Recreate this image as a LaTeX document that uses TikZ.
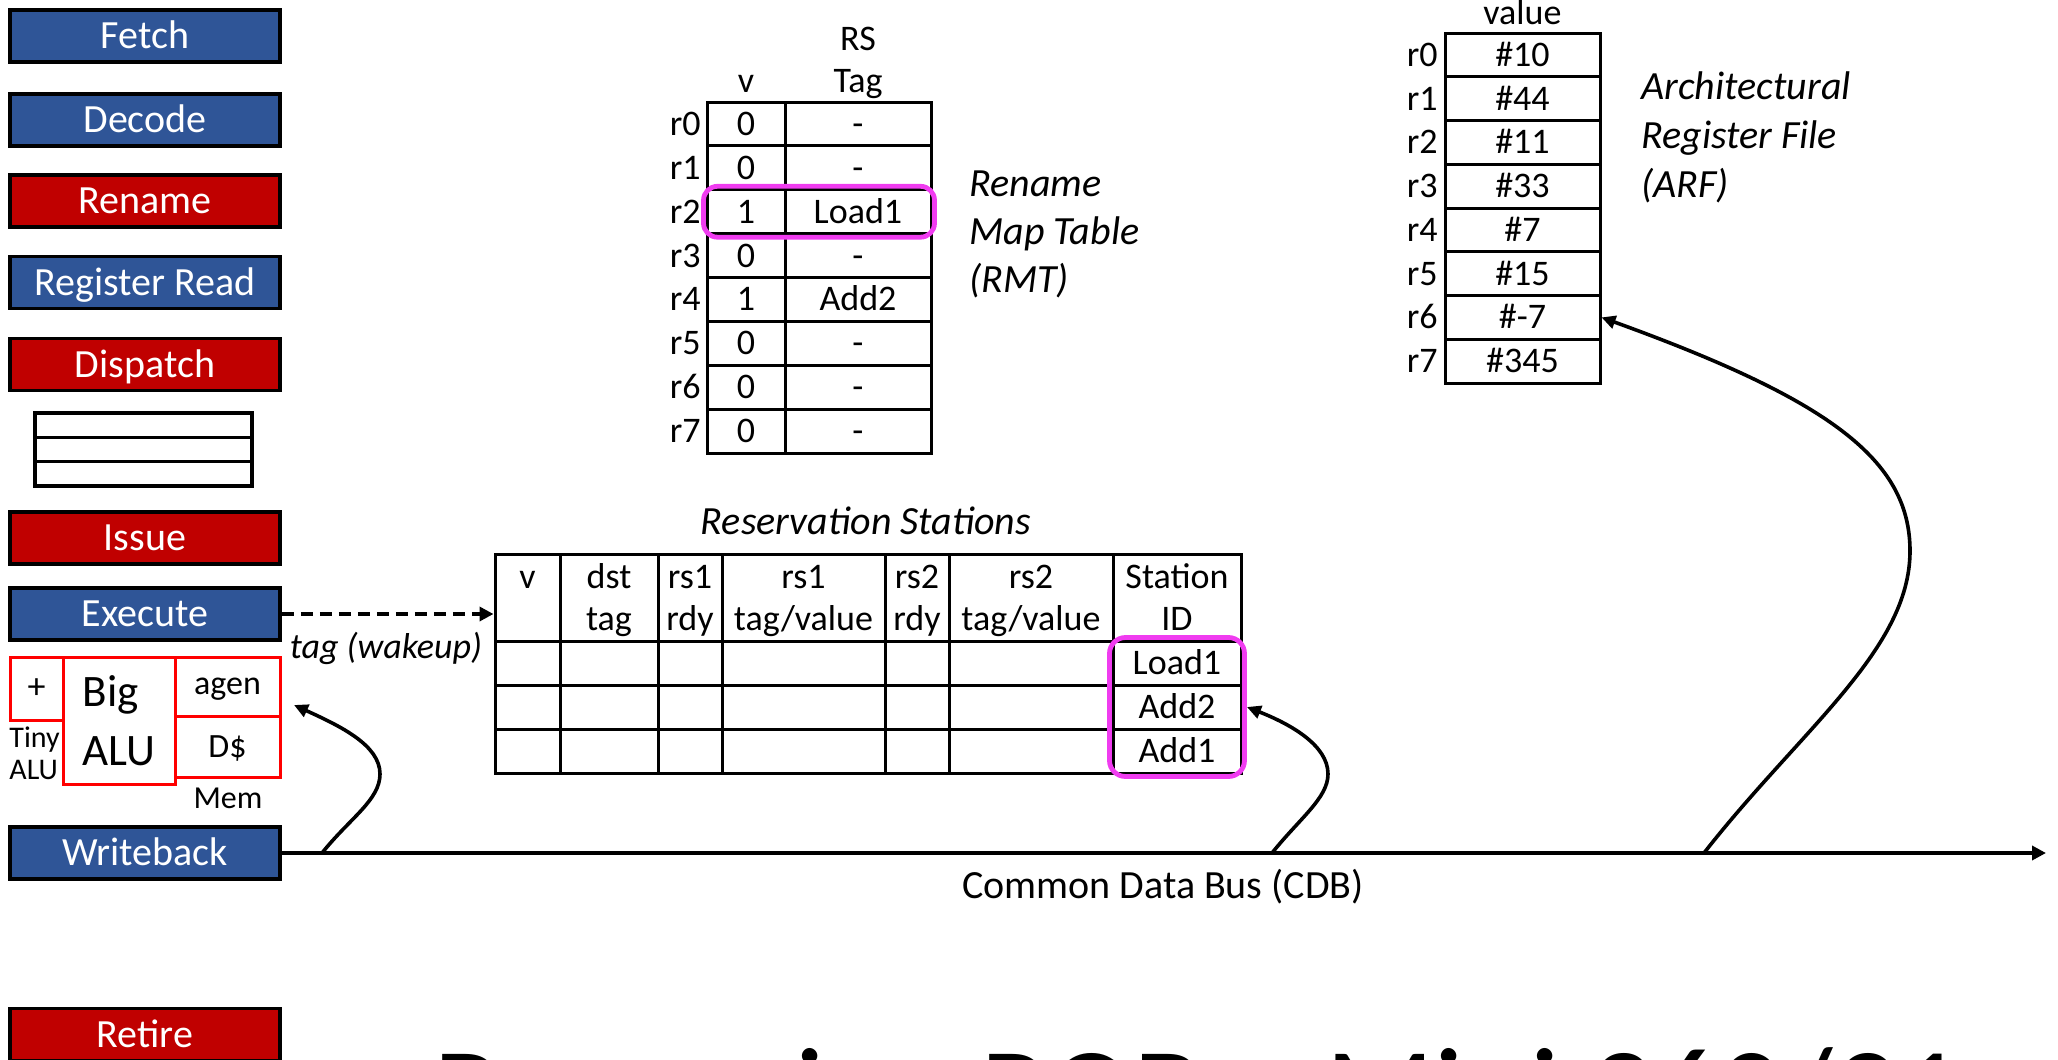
\documentclass[tikz,border=0pt]{standalone}
\usepackage{fontspec}
\setmainfont{Carlito}
\usetikzlibrary{arrows.meta,fit}
\definecolor{stblue}{HTML}{2F5597}
\definecolor{stred}{HTML}{C00000}
\definecolor{alured}{HTML}{FF0000}
\definecolor{magen}{HTML}{F03CF0}
\begin{document}
\begin{tikzpicture}[x=0.5pt,y=-0.5pt,
  stage/.style={draw=black, line width=1.8pt, minimum width=135pt, minimum height=26pt, inner sep=0pt, text=white, font=\fontsize{20}{24}\selectfont, text height=12.6pt, text depth=0pt},
  bluest/.style={stage, fill=stblue},
  redst/.style={stage, fill=stred},
  qbox/.style={draw=black, line width=1.6pt, minimum width=108.5pt, minimum height=12.15pt, inner sep=0pt},
  cell/.style={draw=black, line width=1.5pt, inner sep=0pt, font=\fontsize{18}{21.6}\selectfont, text height=11.4pt, text depth=0pt},
  rowlbl/.style={inner sep=0pt, anchor=east, font=\fontsize{18}{21.6}\selectfont, text height=11.4pt, text depth=0pt},
  hdr/.style={inner sep=0pt, anchor=base, font=\fontsize{18}{21.6}\selectfont},
  ital/.style={inner sep=0pt, font=\fontsize{20}{24}\selectfont\itshape, align=left},
  alubox/.style={draw=alured, line width=1.5pt, inner sep=0pt},
  magbox/.style={draw=magen, line width=2.4pt, rounded corners=7pt, inner sep=1pt},
  conn/.style={line width=1.8pt, -{Triangle[length=7pt,width=6.5pt]}},
]
\useasboundingbox (0,0) rectangle (2058,1060);

% ---------- pipeline stages ----------
\node[bluest] (fetch) at (145,36) {Fetch};
\node[bluest] (decode) at (145,120) {Decode};
\node[redst] (rename) at (145,201) {Rename};
\node[bluest] (regread) at (145,282.5) {Register Read};
\node[redst] (dispatch) at (145,364.5) {Dispatch};
\node[qbox] (q1) at (143.5,425.2) {};
\node[qbox] (q2) at (143.5,449.5) {};
\node[qbox] (q3) at (143.5,473.8) {};
\node[redst] (issue) at (145,538) {Issue};
\node[bluest] (exe) at (145,614) {Execute};
\node[bluest] (wb) at (145,853) {Writeback};
\node[redst] (retire) at (145,1034.5) {Retire};

% ---------- functional units ----------
\node[alubox, minimum width=26.5pt, minimum height=31.5pt, font=\fontsize{18}{20}\selectfont] (plus) at (36.5,688.5) {+};
\node[alubox, minimum width=52.5pt, minimum height=29.5pt, font=\fontsize{17}{20}\selectfont, text height=7.9pt, text depth=0pt] (agen) at (227.5,686.5) {agen};
\node[alubox, minimum width=52.5pt, minimum height=30.5pt, font=\fontsize{17}{20}\selectfont, text height=10.8pt, text depth=0pt] (dcache) at (227.5,746.5) {D\$};
\node[alubox, minimum width=56pt, minimum height=63.5pt, align=left, font=\fontsize{22.5}{29.5}\selectfont] (bigalu) at (119,720.5) {Big\\ALU};
\node[inner sep=0pt, anchor=west, font=\fontsize{15}{18}\selectfont] (tiny1) at (9,740) {Tiny};
\node[inner sep=0pt, anchor=west, font=\fontsize{15}{18}\selectfont] (tiny2) at (9,770) {ALU};
\node[inner sep=0pt, font=\fontsize{16}{19}\selectfont] (mem) at (228,798) {Mem};

% ---------- Rename map table ----------
\node[hdr] (rmthv) at (746,92) {v};
\node[hdr] (rmthrs) at (858,50) {RS};
\node[hdr] (rmthtag) at (858,92) {Tag};
\foreach \v/\t [count=\k from 0] in {0/-,0/-,1/Load1,0/-,1/Add2,0/-,0/-,0/-}{
  \node[cell, minimum width=39pt, minimum height=21.95pt] (rmtv\k) at (746,{123.95+43.9*\k}) {\v};
  \node[cell, minimum width=73pt, minimum height=21.95pt] (rmtt\k) at (858,{123.95+43.9*\k}) {\t};
  \node[rowlbl] (rmtl\k) at (701,{123.95+43.9*\k}) {r\k};
}
\node[magbox, fit=(rmtv2)(rmtt2)] (rmthl) {};
\node[ital, anchor=west] (rmtname) at (969,234) {Rename\\Map Table\\(RMT)};

% ---------- Architectural register file ----------
\node[hdr] (arfhdr) at (1522.5,25) {value};
\foreach \val [count=\k from 0] in {\#10,\#44,\#11,\#33,\#7,\#15,\#-7,\#345}{
  \node[cell, minimum width=77.5pt, minimum height=21.9pt] (arf\k) at (1522.5,{54.9+43.75*\k}) {\val};
  \node[rowlbl] (arfl\k) at (1438,{54.9+43.75*\k}) {r\k};
}
\node[ital, anchor=west, font=\fontsize{20}{24.5}\selectfont\itshape] (arfname) at (1641,137) {Architectural\\Register File\\(ARF)};

% ---------- Reservation stations ----------
\node[ital] (rsname) at (866,521) {Reservation Stations};
\foreach \l/\r [count=\c] in {495/560,560/658,658/722,722/885,885/949,949/1113}{
  \node[cell, minimum width={(\r-\l)*0.5pt}, minimum height=43.5pt] (rsh\c) at ({(\l+\r)/2},597.5) {};
  \foreach \yy [count=\rr] in {663,707,751}{
    \node[cell, minimum width={(\r-\l)*0.5pt}, minimum height=22pt] (rs\c-\rr) at ({(\l+\r)/2},\yy) {};
  }
}
\node[cell, minimum width=64pt, minimum height=43.5pt] (rsh7) at (1177,597.5) {};
\node[cell, minimum width=64pt, minimum height=22pt] (sid1) at (1177,663) {Load1};
\node[cell, minimum width=64pt, minimum height=22pt] (sid2) at (1177,707) {Add2};
\node[cell, minimum width=64pt, minimum height=22pt] (sid3) at (1177,751) {Add1};
\node[magbox, rounded corners=8pt, fit=(sid1)(sid3)] (sidbox) {};

\node[hdr] (h1a) at (527.5,588) {v};
\node[hdr] (h2a) at (609,588) {dst};
\node[hdr] (h2b) at (609,630) {tag};
\node[hdr] (h3a) at (690,588) {rs1};
\node[hdr] (h3b) at (690,630) {rdy};
\node[hdr] (h4a) at (803.5,588) {rs1};
\node[hdr] (h4b) at (803.5,630) {tag/value};
\node[hdr] (h5a) at (917,588) {rs2};
\node[hdr] (h5b) at (917,630) {rdy};
\node[hdr] (h6a) at (1031,588) {rs2};
\node[hdr] (h6b) at (1031,630) {tag/value};
\node[hdr] (h7a) at (1177,588) {Station};
\node[hdr] (h7b) at (1177,630) {ID};

% ---------- wakeup tag ----------
\draw[line width=2pt, dash pattern=on 6pt off 3.5pt, -{Triangle[length=7pt,width=7pt]}] (exe.east) -- (exe.east -| rsh1.west);
\node[inner sep=0pt, font=\fontsize{18}{21.6}\selectfont\itshape] (taglbl) at (386,648) {tag (wakeup)};

% ---------- common data bus ----------
\coordinate (cdbend) at (2046,853);
\draw[line width=1.8pt, -{Triangle[length=7pt,width=7pt]}] (wb.east) -- (cdbend);
\node[inner sep=0pt, font=\fontsize{20}{24}\selectfont] (cdblbl) at (1163,887) {Common Data Bus (CDB)};
\coordinate (b1) at (322,853);
\coordinate (b2) at (1272,853);
\coordinate (b3) at (1704,853);
\coordinate (alutip) at (294,705);
\draw[conn] (b1) .. controls (350,818) and (380,800) .. (380,774) .. controls (380,745) and (340,726) .. (alutip);
\draw[conn] (b2) .. controls (1300,818) and (1328,798) .. (1328,774) .. controls (1328,745) and (1290,724) .. (sidbox.east |- sid2.east);
\draw[conn] (b3) .. controls (1800,730) and (1910,650) .. (1910,551) .. controls (1910,460) and (1830,400) .. (arf6.east);

% ---------- slide title (cut off) ----------
\begin{scope}
\clip (0,0) rectangle (2058,1060);
\node[anchor=base west, inner sep=0pt, font=\fontsize{64}{70}\selectfont] (title) at (433,1136) {Renaming ROB -- Mini 360/91};
\end{scope}
\end{tikzpicture}
\end{document}
